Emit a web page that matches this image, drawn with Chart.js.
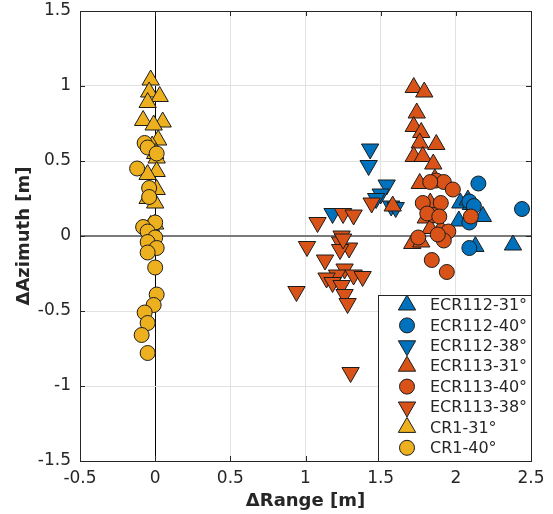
<!DOCTYPE html>
<html><head><meta charset="utf-8">
<script src="https://cdn.jsdelivr.net/npm/chart.js@4/dist/chart.umd.min.js"></script>
<style>html,body{margin:0;padding:0;background:#fff}#wrap{width:553px;height:514px}</style>
</head><body><div id="wrap"><canvas id="c" width="553" height="514"></canvas></div>
<script>
// ---- data ----
const seriesNames = ['ECR112-31°','ECR112-40°','ECR112-38°','ECR113-31°','ECR113-40°','ECR113-38°','CR1-31°','CR1-40°'];
const xTicks = [-0.5, 0, 0.5, 1, 1.5, 2, 2.5];
const yTicks = [-1.5, -1, -0.5, 0, 0.5, 1, 1.5];

const ecr112_31_x = [2.03, 2.10, 2.18, 2.02, 2.13, 2.38, 2.08];
const ecr112_31_y = [0.22, 0.21, 0.13, 0.10, -0.07, -0.06, 0.24];
const ecr112_40_x = [2.15, 2.44, 2.09, 2.09, 2.09, 2.12];
const ecr112_40_y = [0.35, 0.18, 0.23, 0.09, -0.08, 0.20];
const ecr112_38_x = [1.43, 1.42, 1.54, 1.50, 1.47, 1.18, 1.57, 1.60];
const ecr112_38_y = [0.58, 0.47, 0.34, 0.28, 0.25, 0.15, 0.20, 0.19];
const ecr113_31_x = [1.72, 1.79, 1.74, 1.72, 1.77, 1.76, 1.87, 1.72, 1.78, 1.85, 1.76, 1.83, 1.80, 1.83, 1.71, 1.77, 1.58, 1.86, 1.90];
const ecr113_31_y = [0.99, 0.96, 0.82, 0.73, 0.69, 0.62, 0.61, 0.53, 0.53, 0.48, 0.35, 0.22, 0.12, 0.05, -0.05, -0.04, 0.20, 0.38, 0.05];
const ecr113_40_x = [1.87, 1.92, 1.98, 1.78, 1.90, 1.85, 2.10, 1.95, 1.92, 1.75, 1.84, 1.94, 1.81, 1.88, 1.83, 1.89];
const ecr113_40_y = [0.37, 0.36, 0.31, 0.22, 0.22, 0.14, 0.13, 0.03, -0.03, -0.01, -0.16, -0.24, 0.15, 0.01, 0.36, 0.13];
const ecr113_38_x = [1.25, 1.32, 1.08, 1.24, 1.23, 1.01, 1.29, 1.23, 1.13, 1.26, 1.21, 1.32, 1.38, 1.14, 1.18, 1.24, 1.26, 1.28, 0.94, 1.30, 1.44, 1.25];
const ecr113_38_y = [0.15, 0.14, 0.09, 0.00, -0.04, -0.07, -0.08, -0.09, -0.16, -0.22, -0.26, -0.26, -0.27, -0.28, -0.31, -0.33, -0.39, -0.45, -0.37, -0.91, 0.22, -0.02];
const cr1_31_x = [-0.03, -0.04, 0.03, -0.05, -0.08, 0.05, -0.01, 0.02, 0.01, 0.01, -0.05, 0.01, -0.05, 0.00, -0.03, 0.00, -0.02, 0.00];
const cr1_31_y = [1.04, 0.96, 0.93, 0.89, 0.77, 0.76, 0.74, 0.64, 0.52, 0.43, 0.41, 0.31, 0.25, 0.22, 0.07, 0.08, 0.60, 0.55];
const cr1_40_x = [-0.07, -0.05, -0.12, -0.04, -0.04, 0.00, -0.08, -0.05, 0.00, -0.05, 0.01, -0.05, 0.00, 0.01, -0.01, -0.07, -0.05, -0.09, -0.05, 0.01];
const cr1_40_y = [0.62, 0.59, 0.45, 0.32, 0.26, 0.09, 0.06, 0.03, -0.01, -0.04, -0.08, -0.11, -0.21, -0.39, -0.46, -0.51, -0.58, -0.66, -0.78, 0.55];

// ---- styles ----
const BLUE = '#0072BD', ORANGE = '#D95319', YELLOW = '#EDB120';
const EDGE = '#1c1c1c';
const TXT = '#262626';
const seriesX = [ecr112_31_x, ecr112_40_x, ecr112_38_x, ecr113_31_x, ecr113_40_x, ecr113_38_x, cr1_31_x, cr1_40_x];
const seriesY = [ecr112_31_y, ecr112_40_y, ecr112_38_y, ecr113_31_y, ecr113_40_y, ecr113_38_y, cr1_31_y, cr1_40_y];
const colors = [BLUE, BLUE, BLUE, ORANGE, ORANGE, ORANGE, YELLOW, YELLOW];
const shapes = ['up', 'circle', 'down', 'up', 'circle', 'down', 'up', 'circle'];

function pts(xs, ys) { return xs.map((x, i) => ({x: x, y: ys[i]})); }

const N = seriesNames.length;
const datasets = seriesNames.map((name, i) => ({
  label: name,
  data: pts(seriesX[i], seriesY[i]),
  backgroundColor: colors[i],
  borderColor: EDGE,
  borderWidth: 1,
  pointStyle: shapes[i] === 'circle' ? 'circle' : 'triangle',
  rotation: shapes[i] === 'down' ? 180 : 0,
  pointRadius: shapes[i] === 'circle' ? 7.5 : 10,
  pointHoverRadius: shapes[i] === 'circle' ? 7.5 : 10,
  order: N - 1 - i
}));

function fmt(v) { return String(Number(Number(v).toFixed(3))); }

function drawMarker(ctx, shape, cx, cy, r, fill) {
  ctx.beginPath();
  if (shape === 'circle') {
    ctx.arc(cx, cy, r, 0, Math.PI * 2);
  } else {
    const s = shape === 'down' ? -1 : 1;
    ctx.moveTo(cx, cy - s * r);
    ctx.lineTo(cx + r * Math.sin(2 * Math.PI / 3), cy + s * r / 2);
    ctx.lineTo(cx - r * Math.sin(2 * Math.PI / 3), cy + s * r / 2);
    ctx.closePath();
  }
  ctx.fillStyle = fill; ctx.fill();
  ctx.strokeStyle = EDGE; ctx.lineWidth = 1; ctx.stroke();
}

const boxPlugin = {
  id: 'boxAndLegend',
  afterDraw(chart) {
    const ctx = chart.ctx, a = chart.chartArea;
    const xs = chart.scales.x, ys = chart.scales.y;
    ctx.save();
    ctx.strokeStyle = TXT; ctx.lineWidth = 1;
    const tl = 5;
    xTicks.forEach(v => {
      const px = Math.round(xs.getPixelForValue(v)) + 0.5;
      ctx.beginPath(); ctx.moveTo(px, a.bottom); ctx.lineTo(px, a.bottom - tl);
      ctx.moveTo(px, a.top); ctx.lineTo(px, a.top + tl); ctx.stroke();
    });
    yTicks.forEach(v => {
      const py = Math.round(ys.getPixelForValue(v)) + 0.5;
      ctx.beginPath(); ctx.moveTo(a.left, py); ctx.lineTo(a.left + tl, py);
      ctx.moveTo(a.right, py); ctx.lineTo(a.right - tl, py); ctx.stroke();
    });
    ctx.strokeRect(Math.round(a.left) + 0.5, Math.round(a.top) + 0.5, Math.round(a.right - a.left), Math.round(a.bottom - a.top));
    // legend
    const lw = 153, lh = 166;
    const lx = Math.round(a.right) - lw, ly = Math.round(a.bottom) - lh;
    ctx.fillStyle = '#fff';
    ctx.fillRect(lx, ly, lw, lh);
    ctx.strokeStyle = TXT;
    ctx.strokeRect(lx + 0.5, ly + 0.5, lw, lh);
    ctx.font = '16px "DejaVu Sans"';
    ctx.textBaseline = 'middle';
    ctx.textAlign = 'left';
    seriesNames.forEach((name, i) => {
      const cy = ly + 10 + i * 20.4;
      drawMarker(ctx, shapes[i], lx + 29, cy, shapes[i] === 'circle' ? 7.5 : 10, colors[i]);
      ctx.fillStyle = TXT;
      ctx.fillText(name, lx + 52, cy + 1);
    });
    ctx.restore();
  }
};

new Chart(document.getElementById('c'), {
  type: 'scatter',
  data: { datasets: datasets },
  options: {
    responsive: false,
    animation: false,
    devicePixelRatio: 1,
    layout: { padding: { left: 0, right: 22, top: 11, bottom: 0 } },
    plugins: { legend: { display: false }, tooltip: { enabled: false } },
    scales: {
      x: {
        type: 'linear', min: -0.5, max: 2.5,
        afterBuildTicks: s => { s.ticks = xTicks.map(v => ({value: v})); },
        ticks: { callback: fmt, font: { family: 'DejaVu Sans', size: 17 }, color: TXT, padding: 7, maxRotation: 0, autoSkip: false },
        grid: {
          drawTicks: false,
          color: c => (c.tick && c.tick.value === 0) ? '#000000' : '#e2e2e2',
          lineWidth: 1
        },
        border: { color: TXT, width: 1 },
        title: { display: true, text: 'ΔRange [m]', color: TXT, font: { family: 'DejaVu Sans', size: 18, weight: 'bold' }, padding: { top: 0, bottom: 2 } },
        afterFit: s => { s.height = 53; s.paddingLeft = 0; s.paddingRight = 0; }
      },
      y: {
        type: 'linear', min: -1.5, max: 1.5,
        afterBuildTicks: s => { s.ticks = yTicks.map(v => ({value: v})); },
        ticks: { callback: fmt, font: { family: 'DejaVu Sans', size: 17 }, color: TXT, padding: 9, autoSkip: false },
        grid: {
          drawTicks: false,
          color: c => (c.tick && c.tick.value === 0) ? '#7a7a7a' : '#e2e2e2',
          lineWidth: c => (c.tick && c.tick.value === 0) ? 2 : 1
        },
        border: { color: TXT, width: 1 },
        title: { display: true, text: 'ΔAzimuth [m]', color: TXT, font: { family: 'DejaVu Sans', size: 18, weight: 'bold' }, padding: { top: 14, bottom: 0 } },
        afterFit: s => { s.width = 80; s.paddingTop = 0; s.paddingBottom = 0; }
      }
    }
  },
  plugins: [boxPlugin]
});
</script>
</body></html>
